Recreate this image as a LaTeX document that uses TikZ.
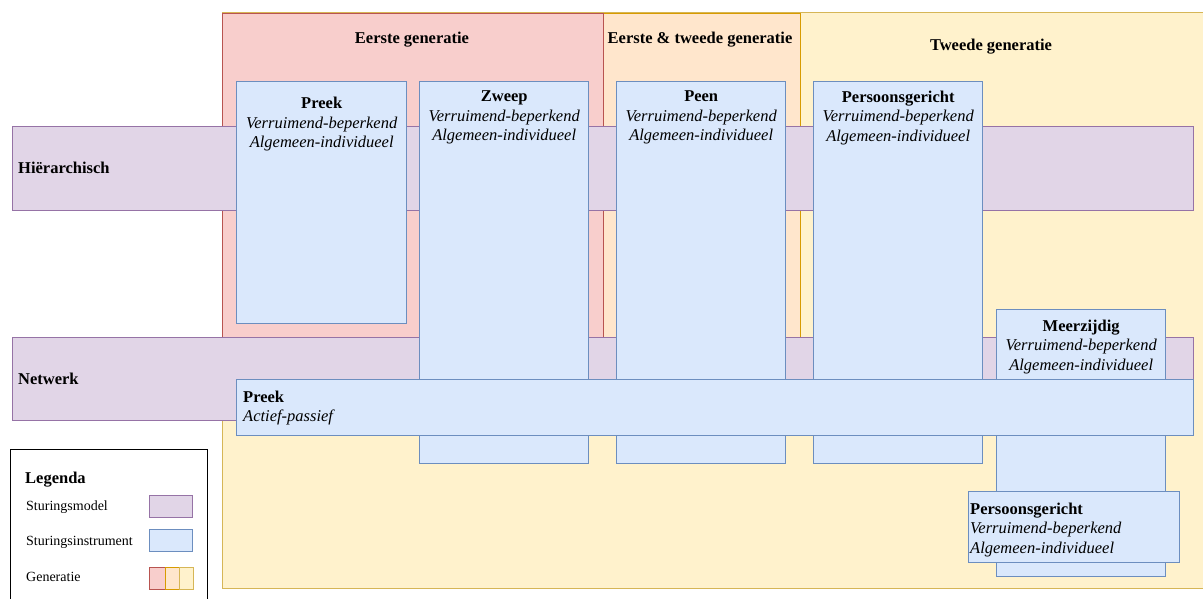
\documentclass[tikz,border=0pt]{standalone}
\usepackage{fontspec}
\setmainfont{Liberation Serif}
\usetikzlibrary{positioning}
\definecolor{modelfill}{HTML}{E1D5E7}
\definecolor{modeldraw}{HTML}{9673A6}
\definecolor{instrfill}{HTML}{DAE8FC}
\definecolor{instrdraw}{HTML}{6C8EBF}
\definecolor{redfill}{HTML}{F8CECC}
\definecolor{reddraw}{HTML}{B85450}
\definecolor{orangefill}{HTML}{FFE6CC}
\definecolor{orangedraw}{HTML}{D79B00}
\definecolor{yellowfill}{HTML}{FFF2CC}
\definecolor{yellowdraw}{HTML}{D6B656}
\tikzset{
    box/.style = {rectangle, line width=1.4pt, anchor=north west, inner sep=0pt},
    model/.style = {box, draw=modeldraw, fill=modelfill},
    instr/.style = {box, draw=instrdraw, fill=instrfill},
    genr/.style = {box, draw=reddraw, fill=redfill},
    geno/.style = {box, draw=orangedraw, fill=orangefill},
    geny/.style = {box, draw=yellowdraw, fill=yellowfill},
    legbox/.style = {box, draw=black, fill=white},
    txt/.style = {inner sep=0pt, align=center, font=\fontsize{16.5}{19.5}\selectfont},
    txtl/.style = {txt, align=left},
    hdr/.style = {inner sep=0pt, anchor=base, font=\fontsize{16.5}{19.5}\selectfont\bfseries},
    leg/.style = {inner sep=0pt, anchor=base west, font=\fontsize{14}{17}\selectfont}
}
\begin{document}
\begin{tikzpicture}[x=1pt, y=-1pt]
\useasboundingbox (0,0) rectangle (1203,599);
\clip (0,0) rectangle (1203,599);
% generaties
\node[geny, minimum width=1000pt, minimum height=576pt] at (222,12) (gen2) {};
\node[geno, minimum width=578pt, minimum height=324pt] at (222,13) (gen12) {};
\node[genr, minimum width=381pt, minimum height=324pt] at (222,13) (gen1) {};
\node[hdr] at (412,43.5) (gen1lbl) {Eerste generatie};
\node[hdr] at (700,43.5) (gen12lbl) {Eerste \& tweede generatie};
\node[hdr] at (991,50.5) (gen2lbl) {Tweede generatie};
% sturingsmodellen
\node[model, minimum width=1181pt, minimum height=84pt] at (12,126) (hier) {};
\node[model, minimum width=1181pt, minimum height=83pt] at (12,337) (netw) {};
\node[hdr, anchor=base west] at (18,173.5) (hierlbl) {Hiërarchisch};
\node[hdr, anchor=base west] at (18,384.5) (netwlbl) {Netwerk};
% sturingsinstrumenten
\node[instr, minimum width=170pt, minimum height=242pt] at (236,81) (preek) {};
\node[txt, below=16.3pt of preek.north] (preektxt) {\textbf{Preek}\\\textit{Verruimend-beperkend}\\\textit{Algemeen-individueel}};
\node[instr, minimum width=169pt, minimum height=382pt] at (419,81) (zweep) {};
\node[txt, below=9.5pt of zweep.north] (zweeptxt) {\textbf{Zweep}\\\textit{Verruimend-beperkend}\\\textit{Algemeen-individueel}};
\node[instr, minimum width=169pt, minimum height=382pt] at (616,81) (peen) {};
\node[txt, below=9.5pt of peen.north] (peentxt) {\textbf{Peen}\\\textit{Verruimend-beperkend}\\\textit{Algemeen-individueel}};
\node[instr, minimum width=169pt, minimum height=382pt] at (813,81) (pers) {};
\node[txt, below=9.5pt of pers.north] (perstxt) {\textbf{Persoonsgericht}\\\textit{Verruimend-beperkend}\\\textit{Algemeen-individueel}};
\node[instr, minimum width=169pt, minimum height=267pt] at (996,309) (meer) {};
\node[txt, below=10.4pt of meer.north] (meertxt) {\textbf{Meerzijdig}\\\textit{Verruimend-beperkend}\\\textit{Algemeen-individueel}};
\node[instr, minimum width=957pt, minimum height=56pt] at (236,379) (preeknw) {};
\node[txtl, below right=11.4pt and 7pt of preeknw.north west] (preeknwtxt) {\textbf{Preek}\\\textit{Actief-passief}};
\node[instr, minimum width=211pt, minimum height=71pt] at (968,491) (persnw) {};
\node[txtl, below right=11.4pt and 2pt of persnw.north west] (persnwtxt) {\textbf{Persoonsgericht}\\\textit{Verruimend-beperkend}\\\textit{Algemeen-individueel}};
% legenda
\node[legbox, minimum width=197pt, minimum height=170pt] at (10,449) (legend) {};
\node[hdr, anchor=base west] at (25,483.5) (leglbl) {Legenda};
\node[leg] at (26,510.6) (legmodellbl) {Sturingsmodel};
\node[leg] at (26,545.6) (leginstrlbl) {Sturingsinstrument};
\node[leg] at (26,581.6) (leggenlbl) {Generatie};
\node[model, minimum width=43pt, minimum height=22pt] at (149,495) (legmodel) {};
\node[instr, minimum width=43pt, minimum height=22pt] at (149,529) (leginstr) {};
\node[genr, minimum width=16pt, minimum height=22pt] at (149,567) (leggenr) {};
\node[geno, minimum width=14pt, minimum height=22pt] at (165,567) (leggeno) {};
\node[geny, minimum width=14pt, minimum height=22pt] at (179,567) (leggeny) {};
\end{tikzpicture}
\end{document}
